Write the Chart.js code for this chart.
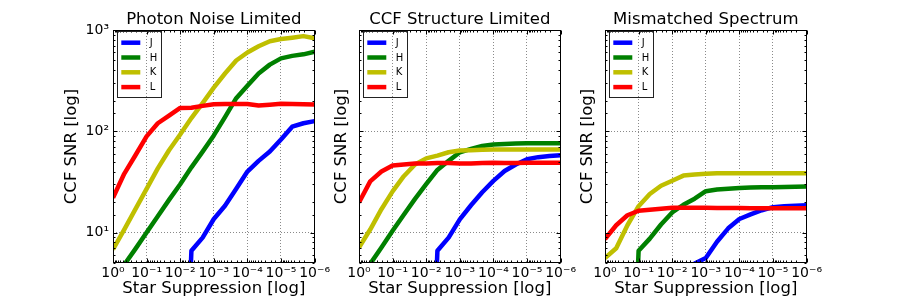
<!DOCTYPE html>
<html>
<head>
<meta charset="utf-8">
<script src="https://cdn.jsdelivr.net/npm/chart.js@4/dist/chart.umd.min.js"></script>
<style>
  body { margin: 0; background: #fff; }
  #wrap { position: relative; width: 900px; height: 300px; overflow: hidden; }
  canvas { position: absolute; top: 0; }
</style>
</head>
<body>
<div id="wrap">
  <canvas id="c1" width="292" height="300" style="left:40px"></canvas>
  <canvas id="c2" width="292" height="300" style="left:286px"></canvas>
  <canvas id="c3" width="292" height="300" style="left:532px"></canvas>
</div>
<script>
// star suppression grid, 3 points per decade
var suppression = [1, 4.64e-1, 2.15e-1, 1e-1, 4.64e-2, 2.15e-2, 1e-2, 4.64e-3, 2.15e-3,
  1e-3, 4.64e-4, 2.15e-4, 1e-4, 4.64e-5, 2.15e-5, 1e-5, 4.64e-6, 2.15e-6, 1e-6];
var bands = ['J', 'H', 'K', 'L'];
var bandColors = ['#0000ff', '#008000', '#bfbf00', '#ff0000'];
var panelTitles = ['Photon Noise Limited', 'CCF Structure Limited', 'Mismatched Spectrum'];

var xTickValues = [1, 1e-1, 1e-2, 1e-3, 1e-4, 1e-5, 1e-6];
var xTickLabels = ['10\u2070', '10\u207b\u00b9', '10\u207b\u00b2', '10\u207b\u00b3', '10\u207b\u2074', '10\u207b\u2075', '10\u207b\u2076'];
var yTickValues = [10, 100, 1000];
var yTickLabels = ['10\u00b9', '10\u00b2', '10\u00b3'];

// SNR ~ 0 (falls off the bottom of the axis)
var OFF = 0.01;

var photonJ = [null, null, null, null, null, null, OFF, 6.6, 8.9, 13.6, 18.4, 27, 40, 51, 63, 83, 111, 120, 126];
var photonH = [3.3, 4.8, 6.9, 10, 14.5, 21, 30, 44, 63, 91, 138, 212, 282, 372, 455, 525, 555, 575, 610];
var photonK = [6.8, 10.7, 17, 27, 43, 65, 93, 135, 190, 270, 372, 500, 600, 690, 775, 815, 840, 870, 830];
var photonL = [22, 38, 58, 89, 120, 143, 170, 171, 178, 185, 186, 186, 186, 180, 183, 187, 186, 185, 184];

var structJ = [null, null, null, null, null, null, OFF, 6.6, 8.9, 13.5, 18.6, 25, 32.4, 40.5, 47, 53, 55.5, 57, 58];
var structH = [3.4, 4.9, 7.1, 10.4, 15, 21.5, 30, 41.5, 51, 62, 67, 71.5, 74, 75, 75.5, 76, 76, 76, 76];
var structK = [7.1, 10.7, 17, 25.5, 36, 47, 54, 57.5, 62, 64.5, 65, 65.5, 66, 66, 66, 66, 66, 66, 66];
var structL = [19.8, 32, 40, 46, 47, 48, 48, 48.5, 48.5, 48, 48, 48.5, 49, 48.5, 48.5, 49, 49, 49, 49];

var mismatchJ = [null, null, null, null, null, null, null, OFF, 4.95, 5.6, 8.1, 11, 13.6, 15.1, 16.6, 17.8, 18.2, 18.4, 18.6];
var mismatchH = [null, null, OFF, 6.6, 8.7, 12, 15.8, 18.8, 21.6, 25.6, 26.6, 27, 27.5, 27.8, 28, 28, 28.2, 28.3, 28.4];
var mismatchK = [5.6, 7.0, 11.8, 18.2, 24, 29, 32.5, 36.5, 37.5, 38, 38.5, 38.5, 38.5, 38.5, 38.5, 38.5, 38.5, 38.5, 38.5];
var mismatchL = [8.6, 11.8, 14.8, 16.4, 16.8, 17.2, 17.6, 17.6, 17.6, 17.6, 17.5, 17.5, 17.5, 17.4, 17.4, 17.4, 17.4, 17.4, 17.4];

Chart.defaults.font.family = '"DejaVu Sans", sans-serif';
Chart.defaults.color = '#000';

function isDecade(v) {
  var e = Math.log10(v);
  return Math.abs(e - Math.round(e)) < 1e-6;
}

function tickLabel(values, labels) {
  return function (v) {
    for (var i = 0; i < values.length; i++) {
      if (Math.abs(v / values[i] - 1) < 1e-6) return labels[i];
    }
    return '';
  };
}

function gridColor(c) {
  return c.tick && isDecade(c.tick.value) ? '#8a8a8a' : 'rgba(0,0,0,0)';
}

// black frame, inward ticks on all four sides, legend box in the upper left
var framePlugin = {
  id: 'frame',
  afterDatasetsDraw: function (chart) {
    var a = chart.chartArea, c = chart.ctx;
    var l = Math.round(a.left) + 0.5, r = Math.round(a.right) - 0.5;
    var t = Math.round(a.top) + 0.5, b = Math.round(a.bottom) - 0.5;
    var xs = chart.scales.x, ys = chart.scales.y;
    c.save();
    c.strokeStyle = '#000';
    c.lineWidth = 1;
    c.beginPath();
    xs.ticks.forEach(function (tk) {
      var x = Math.round(xs.getPixelForValue(tk.value)) + 0.5;
      var len = isDecade(tk.value) ? 4 : 2;
      c.moveTo(x, b); c.lineTo(x, b - len);
      c.moveTo(x, t); c.lineTo(x, t + len);
    });
    ys.ticks.forEach(function (tk) {
      var y = Math.round(ys.getPixelForValue(tk.value)) + 0.5;
      var len = isDecade(tk.value) ? 4 : 2;
      c.moveTo(l, y); c.lineTo(l + len, y);
      c.moveTo(r, y); c.lineTo(r - len, y);
    });
    c.stroke();
    c.strokeRect(l, t, r - l, b - t);

    var bx = Math.round(a.left) + 4, by = Math.round(a.top) + 1;
    c.strokeStyle = '#222';
    c.strokeRect(bx + 0.5, by + 0.5, 44, 66);
    c.font = '10px "DejaVu Sans"';
    c.textBaseline = 'middle';
    c.textAlign = 'left';
    c.lineCap = 'butt';
    chart.data.datasets.forEach(function (ds, i) {
      var y = by + 11.7 + i * 14.8;
      c.strokeStyle = ds.borderColor;
      c.lineWidth = 4.5;
      c.beginPath();
      c.moveTo(bx + 4.3, y);
      c.lineTo(bx + 23.3, y);
      c.stroke();
      c.fillStyle = '#000';
      c.fillText(ds.label, bx + 32.7, y + 0.5);
    });
    c.restore();
  }
};

function makePanel(canvasId, title, series, showYLabels, yTitlePad) {
  return new Chart(document.getElementById(canvasId), {
    type: 'line',
    data: {
      datasets: series.map(function (vals, i) {
        return {
          label: bands[i],
          data: suppression.map(function (s, k) { return { x: s, y: vals[k] }; }),
          borderColor: bandColors[i],
          borderWidth: 4.5,
          borderJoinStyle: 'round',
          pointRadius: 0,
          tension: 0,
          spanGaps: false,
          clip: 0,
          order: bands.length - 1 - i
        };
      })
    },
    options: {
      responsive: false,
      animation: false,
      events: [],
      layout: { padding: { left: 0, right: 15, top: 0, bottom: 0 } },
      plugins: {
        legend: { display: false },
        tooltip: { enabled: false },
        title: {
          display: true,
          fullSize: false,
          text: title,
          color: '#000',
          font: { size: 16.5, weight: 'normal' },
          padding: { top: 10, bottom: 0.2 }
        }
      },
      scales: {
        x: {
          type: 'logarithmic',
          reverse: true,
          min: 1e-6,
          max: 1,
          afterFit: function (s) { s.height = 37; },
          grid: { color: gridColor, lineWidth: 1, drawTicks: false },
          border: { display: false, dash: [1, 2] },
          ticks: {
            autoSkip: false, maxRotation: 0, minRotation: 0, padding: 2,
            font: { size: 14 },
            callback: tickLabel(xTickValues, xTickLabels)
          },
          title: {
            display: true,
            text: 'Star Suppression [log]',
            font: { size: 16.5 },
            padding: { top: 0, bottom: 1 }
          }
        },
        y: {
          type: 'logarithmic',
          min: 5,
          max: 1000,
          afterFit: function (s) { s.width = 73; },
          grid: { color: gridColor, lineWidth: 1, drawTicks: false },
          border: { display: false, dash: [1, 2] },
          ticks: {
            display: showYLabels, autoSkip: false, padding: 4,
            font: { size: 14 },
            callback: tickLabel(yTickValues, yTickLabels)
          },
          title: {
            display: true,
            text: 'CCF SNR [log]',
            font: { size: 16.5 },
            padding: { top: yTitlePad, bottom: 0 }
          }
        }
      }
    },
    plugins: [framePlugin]
  });
}

makePanel('c1', panelTitles[0], [photonJ, photonH, photonK, photonL], true, 22);
makePanel('c2', panelTitles[1], [structJ, structH, structK, structL], false, 46);
makePanel('c3', panelTitles[2], [mismatchJ, mismatchH, mismatchK, mismatchL], false, 46);
</script>
</body>
</html>
